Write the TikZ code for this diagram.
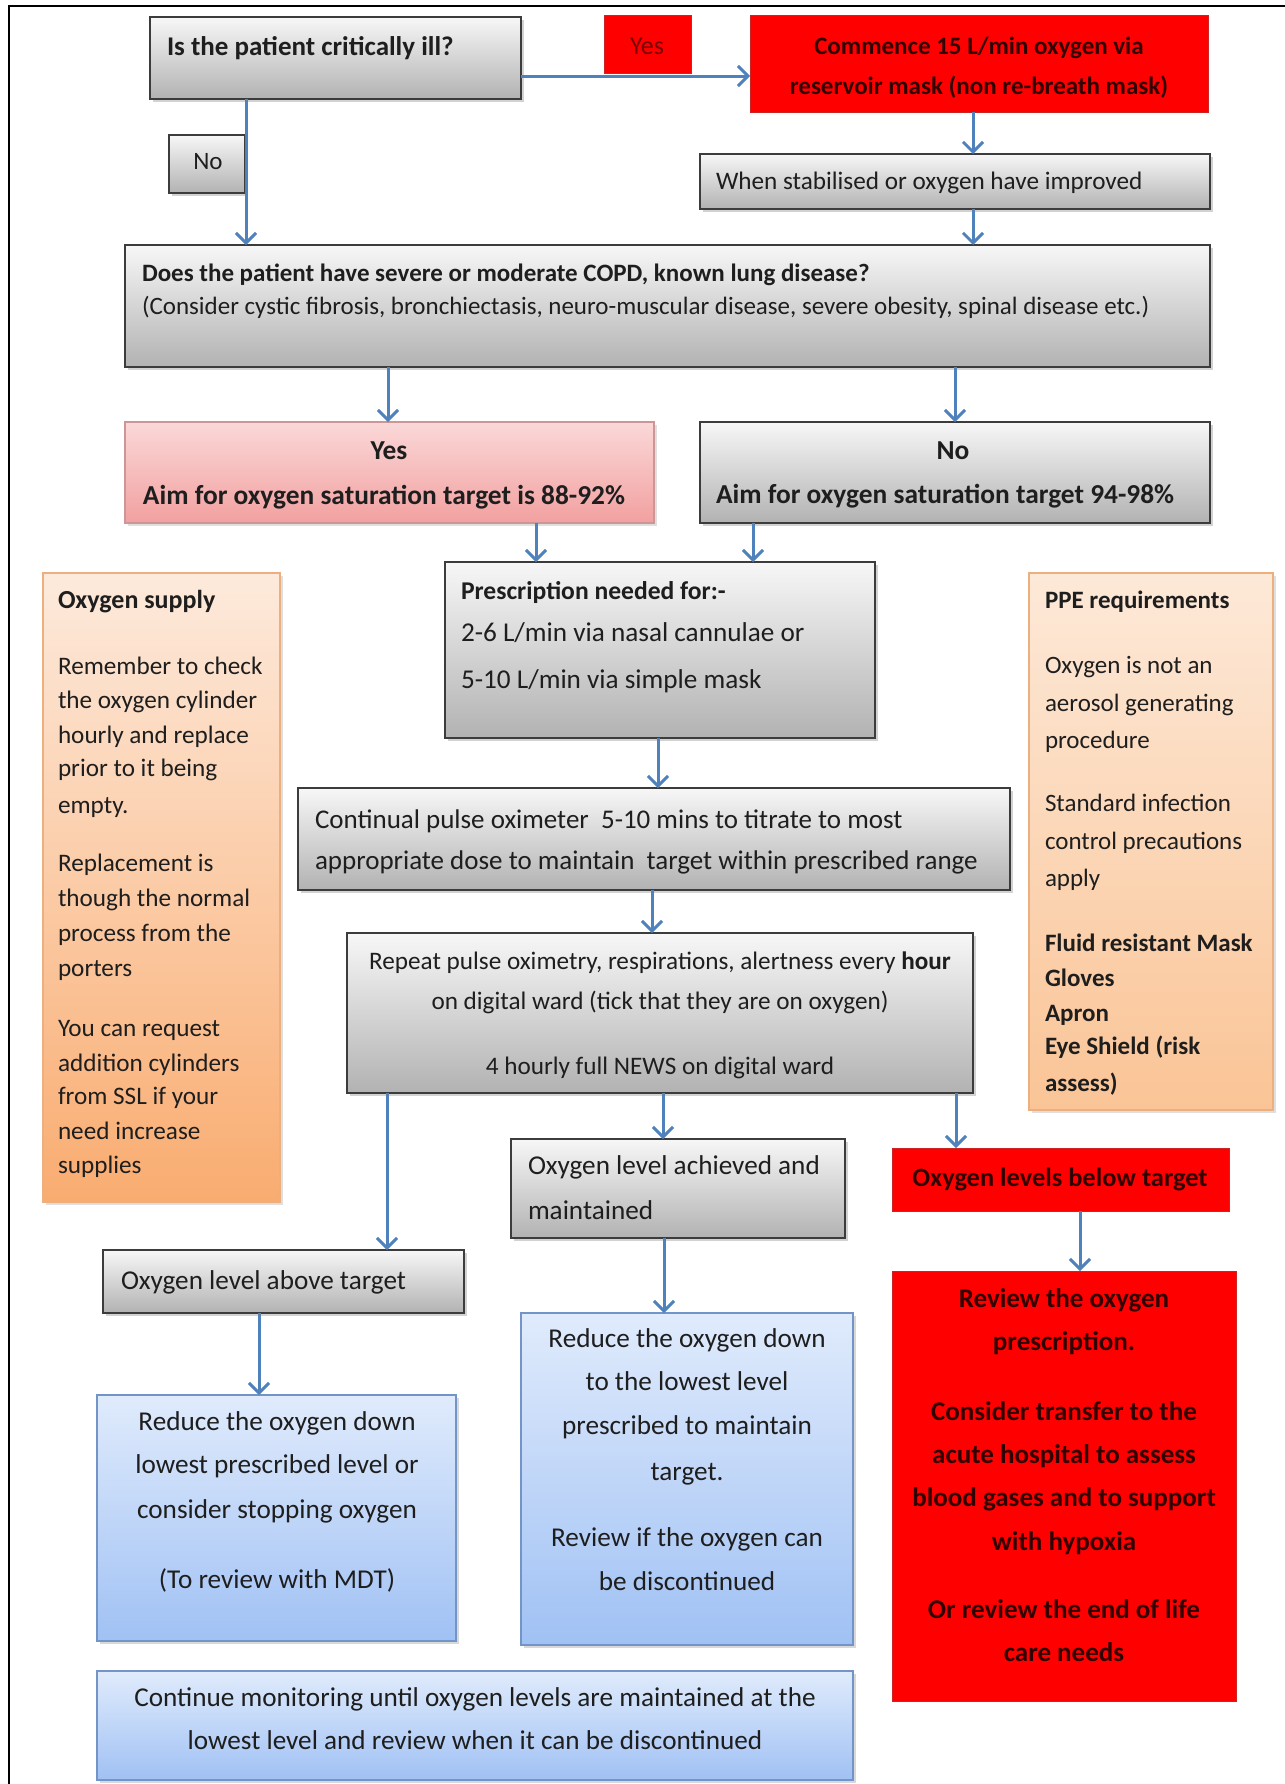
\documentclass[tikz,border=0pt]{standalone}
\usepackage{fontspec}
\setmainfont{Carlito}
\usetikzlibrary{arrows.meta,shadows}
\definecolor{arrowc}{RGB}{79,129,189}
\definecolor{gtop}{RGB}{247,247,247}
\definecolor{gbot}{RGB}{178,178,178}
\definecolor{gborder}{RGB}{60,60,60}
\definecolor{ptop}{RGB}{251,216,216}
\definecolor{pbot}{RGB}{242,160,160}
\definecolor{pborder}{RGB}{205,150,150}
\definecolor{otop}{RGB}{253,234,220}
\definecolor{obot}{RGB}{249,172,112}
\definecolor{otopb}{RGB}{253,233,216}
\definecolor{obotb}{RGB}{250,196,150}
\definecolor{oborder}{RGB}{236,176,128}
\definecolor{btop}{RGB}{224,235,252}
\definecolor{bbot}{RGB}{160,193,244}
\definecolor{bborder}{RGB}{115,148,198}
\definecolor{redf}{RGB}{255,0,0}
\definecolor{redborder}{RGB}{205,35,35}
\definecolor{redtext}{RGB}{50,0,0}
\definecolor{yestext}{RGB}{120,0,0}
\definecolor{tcol}{RGB}{30,30,30}
\newcommand\fs[1]{\fontsize{#1}{#1}\selectfont}
\newcommand\bfs[1]{\fontsize{#1}{#1}\selectfont\bfseries}
\newcounter{tn}
\newcommand\tline[4][]{\stepcounter{tn}\node[txt,#1] (tx\arabic{tn}) at (#2,#3) {#4};}
\newcommand\mkbox[6]{%
  \pgfmathsetmacro\bw{(#4-#2)*0.5}%
  \pgfmathsetmacro\bh{(#5-#3)*0.5}%
  \node[#6, minimum width=\bw pt, minimum height=\bh pt] (#1) at ({(#2+#4)/2},{(#3+#5)/2}) {};}
\tikzset{
  base/.style={rectangle, inner sep=0pt, outer sep=0pt},
  gbox/.style={base, draw=gborder, line width=0.9pt, top color=gtop, bottom color=gbot,
    drop shadow={shadow xshift=1.6pt, shadow yshift=-1.6pt, opacity=0.35}},
  pbox/.style={base, draw=pborder, line width=0.7pt, top color=ptop, bottom color=pbot,
    drop shadow={shadow xshift=1.6pt, shadow yshift=-1.6pt, opacity=0.25}},
  obox/.style={base, draw=oborder, line width=0.7pt, top color=otop, bottom color=obot,
    drop shadow={shadow xshift=1.6pt, shadow yshift=-1.6pt, opacity=0.25}},
  oboxb/.style={base, draw=oborder, line width=0.7pt, top color=otopb, bottom color=obotb,
    drop shadow={shadow xshift=1.6pt, shadow yshift=-1.6pt, opacity=0.25}},
  bbox/.style={base, draw=bborder, line width=0.7pt, top color=btop, bottom color=bbot,
    drop shadow={shadow xshift=1.6pt, shadow yshift=-1.6pt, opacity=0.3}},
  rbox/.style={base, draw=redborder, line width=0.5pt, fill=redf},
  txt/.style={inner sep=0pt, outer sep=0pt, text height=0.62em, text depth=0pt, text=tcol},
  L/.style={anchor=west},
  C/.style={anchor=center},
  rt/.style={text=redtext},
  arr/.style={draw=arrowc, line width=1.5pt, -{Straight Barb[length=5pt,width=10pt]}},
}
\begin{document}
\begin{tikzpicture}[x=0.5pt,y=-0.5pt]
\useasboundingbox (0,0) rectangle (1285,1784);
\fill[white] (0,0) rectangle (1285,1784);
\draw[line width=1pt] (9,1784) -- (9,6) -- (1285,6);
% boxes
\mkbox{b1}{150}{17}{521}{99}{gbox}
\mkbox{yesl}{604}{15}{691}{73}{rbox}
\mkbox{comm}{750}{15}{1208}{112}{rbox}
\mkbox{stab}{700}{154}{1210}{209}{gbox}
\mkbox{nol}{169}{135}{245}{193}{gbox}
\mkbox{copd}{125}{245}{1210}{367}{gbox}
\mkbox{yesb}{125}{422}{654}{523}{pbox}
\mkbox{nob}{700}{422}{1210}{523}{gbox}
\mkbox{presc}{445}{562}{875}{738}{gbox}
\mkbox{supply}{43}{573}{280}{1202}{obox}
\mkbox{ppe}{1029}{573}{1273}{1110}{oboxb}
\mkbox{cont}{298}{788}{1010}{890}{gbox}
\mkbox{rep}{347}{933}{973}{1093}{gbox}
\mkbox{ach}{511}{1139}{845}{1238}{gbox}
\mkbox{below}{892}{1148}{1229}{1211}{rbox}
\mkbox{above}{103}{1250}{464}{1313}{gbox}
\mkbox{review}{892}{1271}{1236}{1701}{rbox}
\mkbox{red1}{97}{1395}{456}{1641}{bbox}
\mkbox{red2}{521}{1313}{853}{1645}{bbox}
\mkbox{contin}{97}{1671}{853}{1780}{bbox}
% arrows
\draw[arr] (b1.east |- 0,76) -- (comm.west |- 0,76);
\draw[arr] (b1.south -| 246,0) -- (copd.north -| 246,0);
\draw[arr] (comm.south -| 973,0) -- (stab.north -| 973,0);
\draw[arr] (stab.south -| 973,0) -- (copd.north -| 973,0);
\draw[arr] (copd.south -| 388,0) -- (yesb.north -| 388,0);
\draw[arr] (copd.south -| 955,0) -- (nob.north -| 955,0);
\draw[arr] (yesb.south -| 536,0) -- (presc.north -| 536,0);
\draw[arr] (nob.south -| 753,0) -- (presc.north -| 753,0);
\draw[arr] (presc.south -| 658,0) -- (cont.north -| 658,0);
\draw[arr] (cont.south -| 652,0) -- (rep.north -| 652,0);
\draw[arr] (rep.south -| 387,0) -- (above.north -| 387,0);
\draw[arr] (rep.south -| 663,0) -- (ach.north -| 663,0);
\draw[arr] (rep.south -| 956,0) -- (below.north -| 956,0);
\draw[arr] (ach.south -| 664,0) -- (red2.north -| 664,0);
\draw[arr] (above.south -| 259,0) -- (red1.north -| 259,0);
\draw[arr] (below.south -| 1080,0) -- (review.north -| 1080,0);
% texts
\tline[L,font=\bfs{13.5}]{167}{49}{Is the patient critically ill?}
\tline[C,font=\fs{13},text=yestext]{647}{48}{Yes}
\tline[C,font=\bfs{12.5},rt]{979}{48}{Commence 15 L/min oxygen via}
\tline[C,font=\bfs{12.5},rt]{979}{88}{reservoir mask (non re-breath mask)}
\tline[L,font=\fs{12.6}]{716}{183}{When stabilised or oxygen have improved}
\tline[C,font=\fs{12.5}]{208}{163}{No}
\tline[L,font=\bfs{12.5}]{142}{275}{Does the patient have severe or moderate COPD, known lung disease?}
\tline[L,font=\fs{12.5}]{142}{308}{(Consider cystic fibrosis, bronchiectasis, neuro-muscular disease, severe obesity, spinal disease etc.)}
\tline[C,font=\bfs{13.7}]{389}{453}{Yes}
\tline[C,font=\bfs{13.7}]{384}{498}{Aim for oxygen saturation target is 88-92\%}
\tline[C,font=\bfs{13.7}]{953}{453}{No}
\tline[L,font=\bfs{13.7}]{716}{497}{Aim for oxygen saturation target 94-98\%}
\tline[L,font=\bfs{12.8}]{461}{593}{Prescription needed for:-}
\tline[L,font=\fs{13.6}]{461}{635}{2-6 L/min via nasal cannulae or}
\tline[L,font=\fs{13.6}]{461}{682}{5-10 L/min via simple mask}
% oxygen supply
\tline[L,font=\bfs{13}]{58}{602}{Oxygen supply}
\tline[L,font=\fs{12.6}]{58}{668}{Remember to check}
\tline[L,font=\fs{12.6}]{58}{702}{the oxygen cylinder}
\tline[L,font=\fs{12.6}]{58}{737}{hourly and replace}
\tline[L,font=\fs{12.6}]{58}{770}{prior to it being}
\tline[L,font=\fs{12.6}]{58}{807}{empty.}
\tline[L,font=\fs{12.6}]{58}{865}{Replacement is}
\tline[L,font=\fs{12.6}]{58}{900}{though the normal}
\tline[L,font=\fs{12.6}]{58}{935}{process from the}
\tline[L,font=\fs{12.6}]{58}{970}{porters}
\tline[L,font=\fs{12.6}]{58}{1030}{You can request}
\tline[L,font=\fs{12.6}]{58}{1065}{addition cylinders}
\tline[L,font=\fs{12.6}]{58}{1098}{from SSL if your}
\tline[L,font=\fs{12.6}]{58}{1133}{need increase}
\tline[L,font=\fs{12.6}]{58}{1167}{supplies}
% PPE
\tline[L,font=\bfs{12.5}]{1045}{602}{PPE requirements}
\tline[L,font=\fs{12.5}]{1045}{667}{Oxygen is not an}
\tline[L,font=\fs{12.5}]{1045}{705}{aerosol generating}
\tline[L,font=\fs{12.5}]{1045}{742}{procedure}
\tline[L,font=\fs{12.5}]{1045}{805}{Standard infection}
\tline[L,font=\fs{12.5}]{1045}{843}{control precautions}
\tline[L,font=\fs{12.5}]{1045}{880}{apply}
\tline[L,font=\bfs{12.5}]{1045}{945}{Fluid resistant Mask}
\tline[L,font=\bfs{12.5}]{1045}{980}{Gloves}
\tline[L,font=\bfs{12.5}]{1045}{1015}{Apron}
\tline[L,font=\bfs{12.5}]{1045}{1048}{Eye Shield (risk}
\tline[L,font=\bfs{12.5}]{1045}{1085}{assess)}
% continual
\tline[L,font=\fs{13.5}]{315}{822}{Continual pulse oximeter\ \ 5-10 mins to titrate to most}
\tline[L,font=\fs{13.5}]{315}{863}{appropriate dose to maintain\ \ target within prescribed range}
% repeat
\tline[C,font=\fs{12.6}]{660}{963}{Repeat pulse oximetry, respirations, alertness every \textbf{hour}}
\tline[C,font=\fs{12.6}]{660}{1003}{on digital ward (tick that they are on oxygen)}
\tline[C,font=\fs{12.6}]{660}{1068}{4 hourly full NEWS on digital ward}
% achieved
\tline[L,font=\fs{13.6}]{528}{1168}{Oxygen level achieved and}
\tline[L,font=\fs{13.6}]{528}{1213}{maintained}
\tline[C,font=\bfs{13.2},rt]{1060}{1180}{Oxygen levels below target}
\tline[L,font=\fs{13.6}]{121}{1283}{Oxygen level above target}
% reduce 1
\tline[C,font=\fs{13.6}]{277}{1424}{Reduce the oxygen down}
\tline[C,font=\fs{13.6}]{277}{1467}{lowest prescribed level or}
\tline[C,font=\fs{13.6}]{277}{1512}{consider stopping oxygen}
\tline[C,font=\fs{13.6}]{277}{1582}{(To review with MDT)}
% reduce 2
\tline[C,font=\fs{13.6}]{687}{1341}{Reduce the oxygen down}
\tline[C,font=\fs{13.6}]{687}{1384}{to the lowest level}
\tline[C,font=\fs{13.6}]{687}{1428}{prescribed to maintain}
\tline[C,font=\fs{13.6}]{687}{1474}{target.}
\tline[C,font=\fs{13.6}]{687}{1540}{Review if the oxygen can}
\tline[C,font=\fs{13.6}]{687}{1584}{be discontinued}
% review
\tline[C,font=\bfs{13.5},rt]{1064}{1301}{Review the oxygen}
\tline[C,font=\bfs{13.5},rt]{1064}{1344}{prescription.}
\tline[C,font=\bfs{13.5},rt]{1064}{1414}{Consider transfer to the}
\tline[C,font=\bfs{13.5},rt]{1064}{1457}{acute hospital to assess}
\tline[C,font=\bfs{13.5},rt]{1064}{1500}{blood gases and to support}
\tline[C,font=\bfs{13.5},rt]{1064}{1544}{with hypoxia}
\tline[C,font=\bfs{13.5},rt]{1064}{1612}{Or review the end of life}
\tline[C,font=\bfs{13.5},rt]{1064}{1655}{care needs}
% continue
\tline[C,font=\fs{13.6}]{475}{1700}{Continue monitoring until oxygen levels are maintained at the}
\tline[C,font=\fs{13.6}]{475}{1743}{lowest level and review when it can be discontinued}
\end{tikzpicture}
\end{document}
